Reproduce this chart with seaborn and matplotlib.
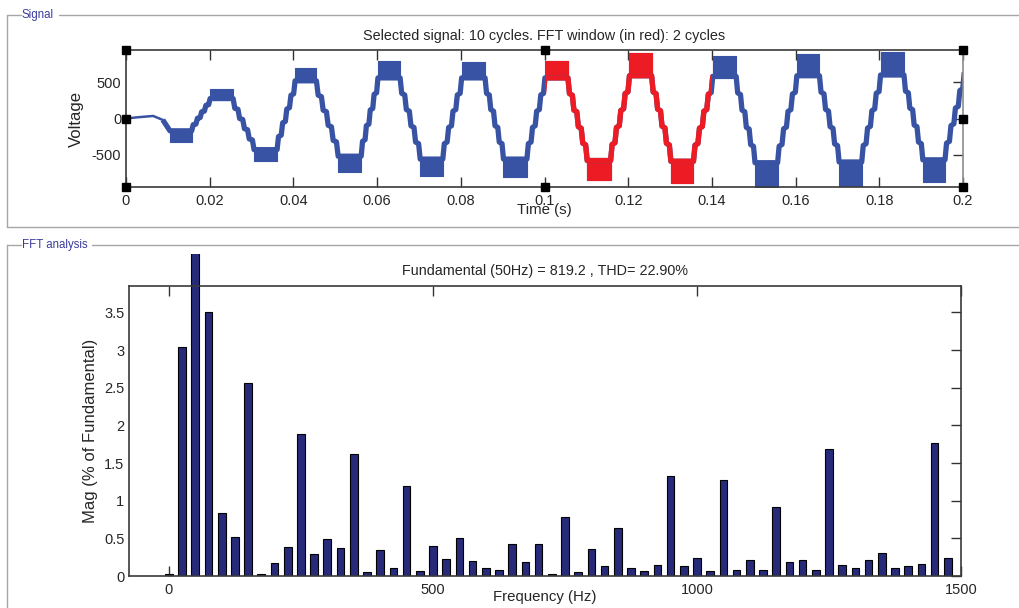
"""
Recreate the powergui FFT analysis window: selected signal + harmonic spectrum
"""

import numpy as np
import seaborn as sns
from matplotlib import pyplot as plt
from matplotlib.lines import Line2D
from matplotlib.patches import Rectangle
from matplotlib.transforms import Bbox, TransformedBbox

# ---------------- data ----------------
# FFT spectrum, 25 Hz resolution (2-cycle window), % of fundamental
freq_hz = np.arange(0, 1500, 25)
mag_pct = [0.02, 3.04, 100.0, 3.50, 0.84, 0.52, 2.56, 0.03, 0.17, 0.39,
           1.89, 0.29, 0.49, 0.37, 1.62, 0.05, 0.34, 0.10, 1.19, 0.07,
           0.40, 0.22, 0.50, 0.20, 0.11, 0.08, 0.43, 0.18, 0.43, 0.03,
           0.78, 0.05, 0.36, 0.13, 0.64, 0.11, 0.06, 0.15, 1.33, 0.13,
           0.24, 0.07, 1.28, 0.08, 0.21, 0.08, 0.91, 0.18, 0.21, 0.08,
           1.69, 0.15, 0.11, 0.21, 0.30, 0.11, 0.13, 0.16, 1.77, 0.24]

# signal: ripple block at every half-cycle peak (start, end, inner level, outer level)
blk_t0 = [0.0105, 0.0201, 0.0306, 0.0404, 0.0507, 0.0602, 0.0703, 0.0802, 0.0902, 0.1001,
          0.1102, 0.1203, 0.1302, 0.1402, 0.1503, 0.1603, 0.1704, 0.1803, 0.1904]
blk_t1 = [0.0157, 0.0256, 0.0361, 0.0455, 0.0562, 0.0655, 0.0757, 0.0858, 0.0958, 0.1056,
          0.1158, 0.1256, 0.1356, 0.1458, 0.1557, 0.1657, 0.1758, 0.1859, 0.1957]
blk_inner = [-170, 275, -430, 520, -520, 560, -560, 560, -560, 560,
             -580, 590, -590, 580, -610, 590, -600, 600, -570]
blk_outer = [-320, 405, -590, 690, -735, 795, -800, 785, -805, 795,
             -845, 905, -885, 865, -945, 895, -935, 915, -875]

# start-up before the first block, and the last point of the trace
start_t = [0.0, 0.003, 0.0065, 0.0088, 0.0105]
start_v = [0, 18, 35, -20, -170]
end_t, end_v = 0.2003, 640

# staircase shape between two blocks (fraction of time, fraction of level change)
stair_tf = [0.00, 0.08, 0.23, 0.31, 0.46, 0.54, 0.69, 0.77, 0.92, 1.00]
stair_vf = [0.00, 0.19, 0.21, 0.39, 0.41, 0.59, 0.61, 0.79, 0.81, 1.00]

fft_window = (0.1, 0.14)
time_ticks = np.arange(0, 0.201, 0.02)
volt_ticks = [-500, 0, 500]
mag_ticks = np.arange(0, 3.51, 0.5)

# ---------------- style ----------------
sns.set_style("white")
plt.rcParams["font.family"] = ["Liberation Sans", "DejaVu Sans"]
plt.rcParams["axes.linewidth"] = 1.2

blue = "#3953a4"
red = "#ed1c24"
navy = "#272a78"
txt = "#262626"

fig = plt.figure(figsize=(10.19, 6.08), dpi=100)
W, H = 1019, 608

# group-box frames
frame_col = "#a6a6a6"
def hline(x0, x1, y):
    fig.add_artist(Line2D([x0 / W, x1 / W], [1 - y / H, 1 - y / H], color=frame_col, lw=1))
def vline(x, y0, y1):
    fig.add_artist(Line2D([x / W, x / W], [1 - y0 / H, 1 - y1 / H], color=frame_col, lw=1))

hline(7, 21, 14.7); hline(59, W, 14.7); hline(7, W, 226.7); vline(7.3, 14.7, 226.7)
hline(7, 21, 244.7); hline(92, W, 244.7); vline(7.3, 244.7, H)
fig.text(22 / W, 1 - 14.7 / H, "Signal", color="#3b3b9e", fontsize=8.3, va="center")
fig.text(22 / W, 1 - 244.7 / H, "FFT analysis", color="#3b3b9e", fontsize=8.3, va="center")

# ---------------- signal panel ----------------
ax1 = fig.add_axes([126 / W, 1 - 187 / H, (963 - 126) / W, (187 - 50) / H])

line_t, line_v = list(start_t[-2:]), list(start_v[-2:])
n_blk = len(blk_t0)
for k in range(n_blk):
    line_t += [blk_t0[k], blk_t1[k]]
    line_v += [blk_inner[k], blk_inner[k]]
    t_a, v_a = blk_t1[k], blk_inner[k]
    if k + 1 < n_blk:
        t_b, v_b = blk_t0[k + 1], blk_inner[k + 1]
    else:
        t_b, v_b = end_t, end_v
    line_t += [t_a + f * (t_b - t_a) for f in stair_tf]
    line_v += [v_a + f * (v_b - v_a) for f in stair_vf]

# thin start-up trace
sns.lineplot(x=start_t, y=start_v, sort=False, estimator=None, color=blue, lw=1.8, ax=ax1)

for col in (blue, red):
    sns.lineplot(x=line_t, y=line_v, sort=False, estimator=None, color=col,
                 lw=3.8, ax=ax1)
    wave = ax1.lines[-1]
    wave.set_solid_capstyle("butt")
    fills = [ax1.fill_between([blk_t0[k], blk_t1[k]], blk_inner[k], blk_outer[k],
                              color=col, lw=0.8, edgecolor=col) for k in range(n_blk)]
    if col == red:
        win = Rectangle((fft_window[0], -5000), fft_window[1] - fft_window[0], 10000,
                        transform=ax1.transData)
        wave.set_clip_path(win)
        for f in fills:
            f.set_clip_path(win)

ax1.set_xlim(0, 0.2)
ax1.set_ylim(-945, 945)
ax1.set_xticks(time_ticks)
ax1.set_xticklabels([f"{v:g}" for v in np.round(time_ticks, 2)])
ax1.set_yticks(volt_ticks)
ax1.set_yticklabels([f"{v:g}" for v in volt_ticks])
ax1.tick_params(axis="x", direction="in", length=7, width=1, top=True, bottom=True,
                pad=5, labelsize=10.5, labelcolor=txt, color="#333333")
ax1.tick_params(axis="y", direction="in", length=7, width=1, left=False, right=True,
                pad=3.5, labelsize=10.5, labelcolor=txt, color="#333333")
ax1.set_title("Selected signal: 10 cycles. FFT window (in red): 2 cycles",
              fontsize=10.4, color=txt, pad=7)
ax1.set_xlabel("Time (s)", fontsize=10.8, color=txt)
ax1.xaxis.set_label_coords(0.5, -0.12)
ax1.set_ylabel("Voltage", fontsize=12, color=txt)
ax1.yaxis.set_label_coords(-0.05, 0.5)
for s in ax1.spines.values():
    s.set_color("#3a3a3a")
ax1.spines["right"].set_color("#8c8c8c")

# selection handles around the signal axes
ax1.plot([0, 0, 0, 0.5, 0.5, 1, 1, 1], [0, 0.5, 1, 0, 1, 0, 0.5, 1],
         transform=ax1.transAxes, ls="none", marker="s", ms=5.5, color="black",
         clip_on=False, zorder=6)

# ---------------- FFT panel ----------------
ax2 = fig.add_axes([129.3 / W, 1 - 576 / H, (961 - 129.3) / W, (576 - 286) / H])
sns.barplot(x=freq_hz, y=mag_pct, native_scale=True, width=0.58, color=navy,
            saturation=1, edgecolor="black", linewidth=0.8, errorbar=None, ax=ax2)

# the fundamental bar runs past the top of the axes, as in the original window
over = TransformedBbox(Bbox.from_extents(0, 0, 1, 1.112), ax2.transAxes)
for p in ax2.patches:
    p.set_clip_box(over)

ax2.set_xlim(-75, 1500)
ax2.set_ylim(0, 3.85)
ax2.set_xticks([0, 500, 1000, 1500])
ax2.set_xticklabels(["0", "500", "1000", "1500"])
ax2.set_yticks(mag_ticks)
ax2.set_yticklabels([f"{v:g}" for v in mag_ticks])
ax2.tick_params(axis="x", direction="in", length=7, width=1, top=True, bottom=True,
                pad=5, labelsize=10.5, labelcolor=txt, color="#333333")
ax2.tick_params(axis="y", direction="in", length=7, width=1, left=False, right=True,
                pad=3.5, labelsize=10.5, labelcolor=txt, color="#333333")
ax2.set_title("Fundamental (50Hz) = 819.2 , THD= 22.90%", fontsize=10.4, color=txt, pad=8)
ax2.set_xlabel("Frequency (Hz)", fontsize=10.8, color=txt)
ax2.xaxis.set_label_coords(0.5, -0.05)
ax2.set_ylabel("Mag (% of Fundamental)", fontsize=12, color=txt)
ax2.yaxis.set_label_coords(-0.038, 0.5)
for s in ax2.spines.values():
    s.set_color("#3a3a3a")

plt.savefig("out.png", dpi=100)
